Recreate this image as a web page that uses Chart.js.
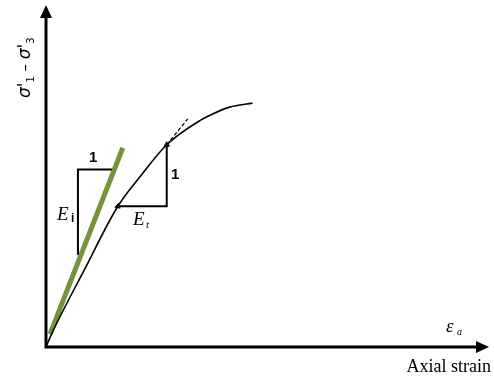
<!DOCTYPE html>
<html>
<head>
<meta charset="utf-8">
<script src="https://cdn.jsdelivr.net/npm/chart.js@4"></script>
<style>
  html, body { margin: 0; padding: 0; background: #fff; }
  #wrap { width: 494px; height: 383px; position: relative; }
</style>
</head>
<body>
<div id="wrap"><canvas id="Chart1"></canvas></div>
<script>
// stress-strain curve (schematic units)
const strain = [0, 1.35, 8.56, 16.22, 21.62, 27.25, 34.23, 37.61, 41.44, 46.62];
const stress = [0, 4.06, 22.32, 41.16, 50.43, 59.13, 65.80, 68.12, 70.14, 71.30];

// initial tangent modulus line
const tangentX = [0.90, 17.34];
const tangentY = [3.77, 58.26];

// secant extension past the upper point
const secantX = [27.25, 31.98];
const secantY = [59.13, 66.67];

// slope triangles
const triEiX = [7.21, 7.21, 14.86];
const triEiY = [26.96, 51.88, 51.88];
const triEtX = [16.22, 27.25, 27.25];
const triEtY = [41.16, 41.16, 59.13];

// small arrow tips where the triangle meets the curve
const tipX = [16.22, 27.25];
const tipY = [41.16, 59.13];

const toPts = (xs, ys) => xs.map((x, i) => ({ x: x, y: ys[i] }));

const line = (data, color, width, extra) => Object.assign({
  data: data,
  showLine: true,
  borderColor: color,
  borderWidth: width,
  pointRadius: 0,
  fill: false
}, extra || {});

// axes with arrows and all the text labels
const annotate = {
  id: 'annotate',
  afterDraw(chart) {
    const c = chart.ctx;
    const a = chart.chartArea;
    const xs = chart.scales.x, ys = chart.scales.y;
    c.save();
    c.strokeStyle = '#000';
    c.fillStyle = '#000';
    c.lineWidth = 3;
    c.beginPath();
    c.moveTo(a.left, a.bottom + 1.5);
    c.lineTo(a.left, a.top + 10);
    c.moveTo(a.left - 1.5, a.bottom);
    c.lineTo(a.right - 10, a.bottom);
    c.stroke();
    // arrow heads
    c.beginPath();
    c.moveTo(a.left, a.top);
    c.lineTo(a.left - 6, a.top + 13);
    c.lineTo(a.left + 6, a.top + 13);
    c.closePath();
    c.fill();
    c.beginPath();
    c.moveTo(a.right, a.bottom);
    c.lineTo(a.right - 13, a.bottom - 6);
    c.lineTo(a.right - 13, a.bottom + 6);
    c.closePath();
    c.fill();

    const px = v => xs.getPixelForValue(v);
    const py = v => ys.getPixelForValue(v);

    c.textBaseline = 'alphabetic';
    c.textAlign = 'left';
    c.font = 'bold 15px "Liberation Sans", Arial, sans-serif';
    c.fillText('1', px(10.6) - 4, py(55.5) + 5);
    c.fillText('1', px(29.1) - 4, py(50.7) + 5);

    // Ei
    c.font = 'italic 19px "Liberation Serif", serif';
    c.fillText('E', 57, 220);
    c.font = 'bold 12px "Liberation Sans", sans-serif';
    c.fillText('i', 71, 222);
    // Et
    c.font = 'italic 19px "Liberation Serif", serif';
    c.fillText('E', 133, 225);
    c.font = 'italic 11px "Liberation Serif", serif';
    c.fillText('t', 146, 228);

    // strain symbol
    c.font = 'italic 19px "Liberation Serif", serif';
    c.fillText('ε', 446, 332);
    c.font = 'italic 10px "Liberation Serif", serif';
    c.fillText('a', 457, 335);

    c.font = '18px "Liberation Serif", serif';
    c.textAlign = 'right';
    c.fillText('Axial strain', 491, 372);

    // y label, rotated
    c.translate(30, 98);
    c.rotate(-Math.PI / 2);
    c.textAlign = 'left';
    let x = 0;
    const part = (t, f, dy) => { c.font = f; c.fillText(t, x, dy); x += c.measureText(t).width; };
    part('σ\'', 'italic 17px "DejaVu Sans", sans-serif', 0);
    part('1', '10px "DejaVu Sans", sans-serif', 4);
    part(' – ', '15px "DejaVu Sans", sans-serif', 0);
    part('σ\'', 'italic 17px "DejaVu Sans", sans-serif', 0);
    part('3', '10px "DejaVu Sans", sans-serif', 4);
    c.restore();
  }
};

new Chart(document.getElementById('Chart1'), {
  type: 'scatter',
  data: {
    datasets: [
      line(toPts(strain, stress), '#000', 1.6, { cubicInterpolationMode: 'monotone' }),
      line(toPts(secantX, secantY), '#000', 1.2, { borderDash: [4, 2] }),
      line(toPts(triEiX, triEiY), '#000', 2),
      line(toPts(triEtX, triEtY), '#000', 2),
      {
        data: toPts(tipX, tipY),
        showLine: false,
        pointStyle: 'triangle',
        pointRadius: 3,
        rotation: [250, 0],
        backgroundColor: '#000',
        borderColor: '#000',
        borderWidth: 1
      },
      line(toPts(tangentX, tangentY), '#76923C', 5, { borderCapStyle: 'butt' })
    ]
  },
  options: {
    responsive: true,
    maintainAspectRatio: false,
    animation: false,
    devicePixelRatio: 1,
    layout: { padding: { left: 46, right: 4, top: 2, bottom: 36 } },
    scales: {
      x: { type: 'linear', min: 0, max: 100, display: false },
      y: { type: 'linear', min: 0, max: 100, display: false }
    },
    plugins: {
      legend: { display: false },
      tooltip: { enabled: false }
    }
  },
  plugins: [annotate]
});
</script>
</body>
</html>
